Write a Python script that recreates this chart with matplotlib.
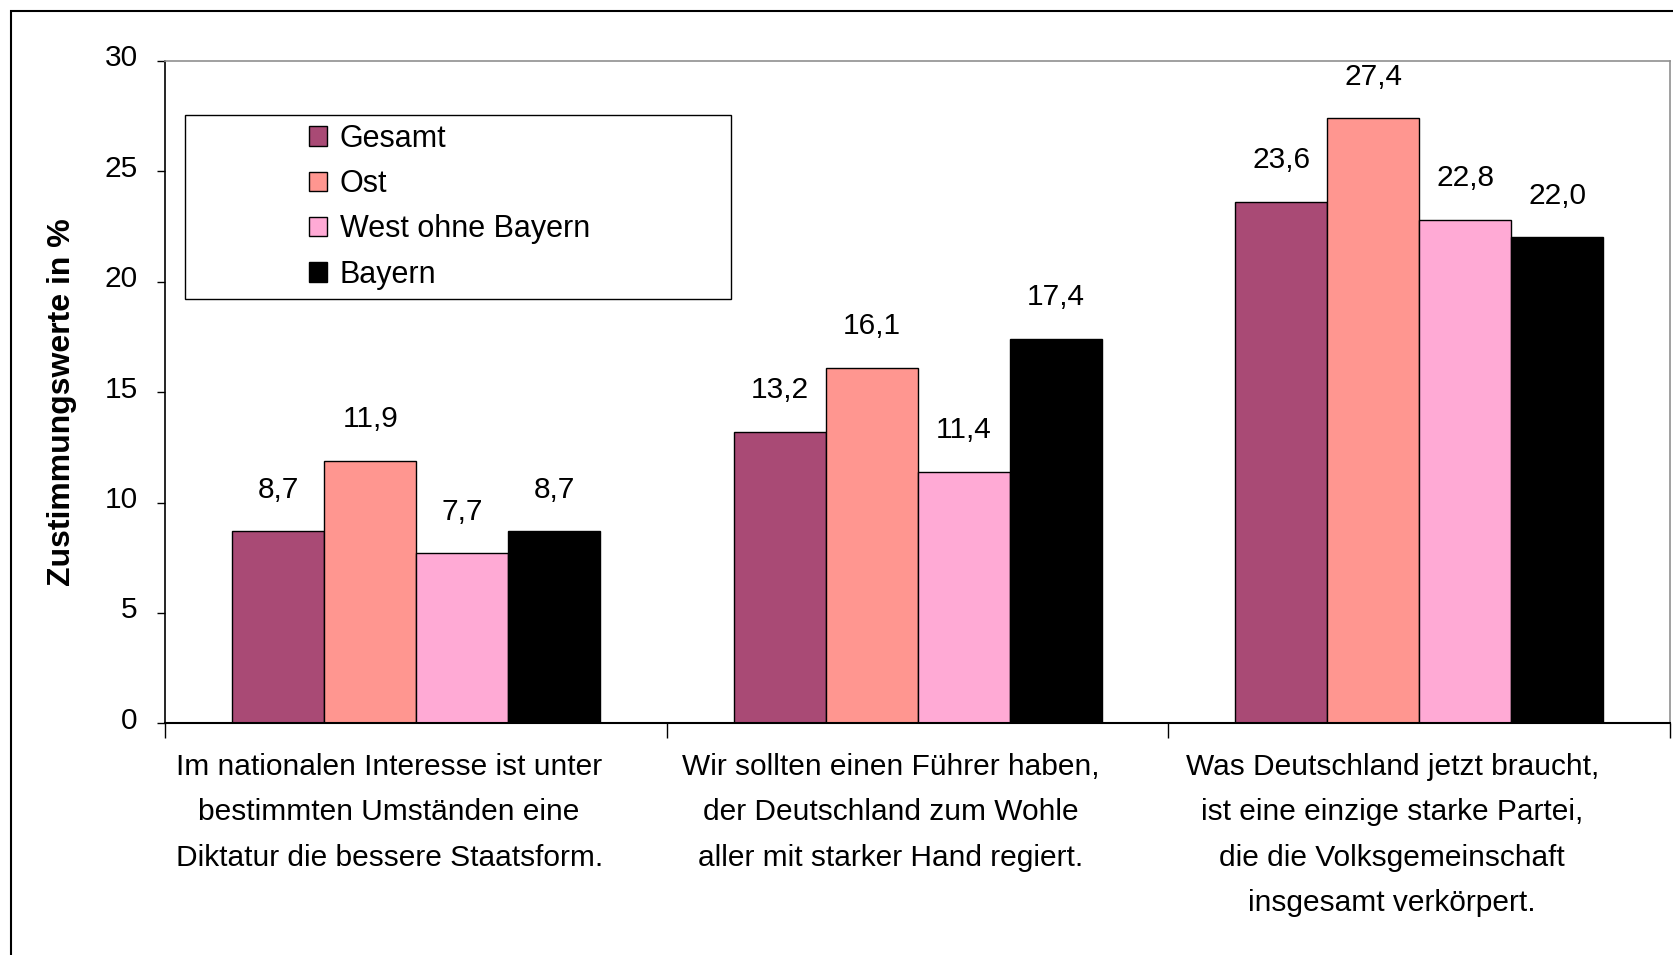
import matplotlib
matplotlib.use("Agg")
import matplotlib.pyplot as plt
from matplotlib.patches import Rectangle, Patch
from matplotlib.transforms import ScaledTranslation
import numpy as np

plt.rcParams['font.family'] = ['Liberation Sans', 'DejaVu Sans']

categories = [
    "Im nationalen Interesse ist unter\nbestimmten Umständen eine\nDiktatur die bessere Staatsform.",
    "Wir sollten einen Führer haben,\nder Deutschland zum Wohle\naller mit starker Hand regiert.",
    "Was Deutschland jetzt braucht,\nist eine einzige starke Partei,\ndie die Volksgemeinschaft\ninsgesamt verkörpert.",
]
series_names = ["Gesamt", "Ost", "West ohne Bayern", "Bayern"]
gesamt = [8.7, 13.2, 23.6]
ost = [11.9, 16.1, 27.4]
west = [7.7, 11.4, 22.8]
bayern = [8.7, 17.4, 22.0]
series_values = [gesamt, ost, west, bayern]
colors = ["#A94A75", "#FF9690", "#FFAAD5", "#000000"]
yticks = [0, 5, 10, 15, 20, 25, 30]

W, H = 1673, 955
fig = plt.figure(figsize=(W / 100, H / 100), dpi=100)

# outer frame (extends past right/bottom edges)
fig.patches.append(Rectangle((10.7 / W, -0.05), 1.2, 1 - 10.7 / H + 0.05,
                             transform=fig.transFigure, fill=False,
                             edgecolor="black", linewidth=1.5))

ax = fig.add_axes([165.4 / W, 1 - 723.4 / H, (1670 - 165.4) / W, (723.4 - 60.8) / H])

x = np.arange(len(categories))
bw = 1 / 5.45
for i, (name, vals, c) in enumerate(zip(series_names, series_values, colors)):
    pos = x + (i - 1.5) * bw
    ax.bar(pos, vals, width=bw, color=c, edgecolor="black", linewidth=1.0, label=name, zorder=2)
    for px, v in zip(pos, vals):
        ax.annotate(f"{v:.1f}".replace(".", ","), (px, v), xytext=(0, 30),
                    textcoords="offset points", ha="center", va="center", fontsize=21.5)

ax.set_xlim(-0.5, 2.5)
ax.set_ylim(0, 30)
ax.set_yticks(yticks)
ax.set_yticklabels([str(t) for t in yticks], fontsize=21.5)
ax.tick_params(axis="y", length=6, width=1, direction="out", pad=14)
up = ScaledTranslation(0, 4 / 72, fig.dpi_scale_trans)
for lbl in ax.get_yticklabels():
    lbl.set_transform(lbl.get_transform() + up)

ax.set_xticks(x)
ax.set_xticklabels(categories, fontsize=21.5, linespacing=1.8, va="top")
ax.tick_params(axis="x", which="major", length=0, pad=21)
left = ScaledTranslation(-27 / 100, 0, fig.dpi_scale_trans)
for lbl in ax.get_xticklabels():
    lbl.set_transform(lbl.get_transform() + left)
ax.set_xticks([-0.5, 0.5, 1.5, 2.5], minor=True)
ax.tick_params(axis="x", which="minor", length=11, width=1, direction="out")

for s in ["top", "right"]:
    ax.spines[s].set_color("#909090")
    ax.spines[s].set_linewidth(1.2)
ax.spines["left"].set_linewidth(1.2)
ax.spines["bottom"].set_linewidth(1.5)

ax.set_ylabel("Zustimmungswerte in %", fontsize=23, fontweight="bold")
ax.yaxis.set_label_coords(-0.0588, 0.4855)

# legend box
ax.add_patch(Rectangle((0.01276, 0.6408), 0.3758 - 0.01276, 0.9179 - 0.6408,
                       transform=ax.transAxes, fill=True, facecolor="white",
                       edgecolor="black", linewidth=1.0, zorder=3))
handles = [Patch(facecolor=c, edgecolor="black", linewidth=1.0) for c in colors]
leg = ax.legend(handles, series_names, loc="upper left", bbox_to_anchor=(0.0955, 0.905),
                frameon=False, fontsize=22, handlelength=0.6, handleheight=0.6,
                handletextpad=0.4, labelspacing=0.5, borderpad=0, borderaxespad=0)
leg.set_zorder(4)

fig.savefig("out.png", dpi=100)
